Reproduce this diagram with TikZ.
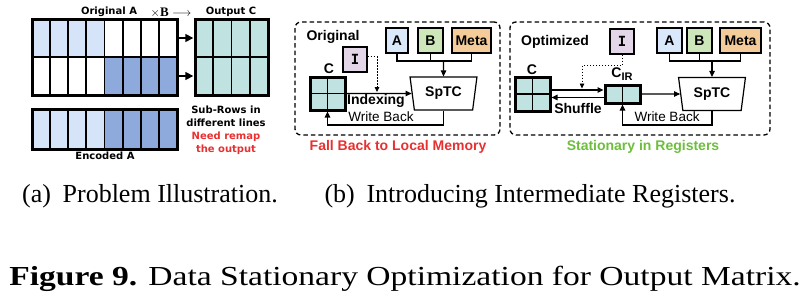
\documentclass[tikz,border=0pt]{standalone}
\usepackage{fontspec}
\setmainfont{Liberation Serif}
\newfontfamily\dvs{DejaVu Sans}
\newfontfamily\lsans{Liberation Sans}
\newfontfamily\dvmono{DejaVu Sans Mono}
\usetikzlibrary{shapes.geometric,arrows.meta,fit,calc}

\definecolor{cLight}{RGB}{214,228,250}
\definecolor{cMed}{RGB}{142,169,219}
\definecolor{cTeal}{RGB}{192,227,226}
\definecolor{cA}{RGB}{218,232,252}
\definecolor{cB}{RGB}{205,230,186}
\definecolor{cMeta}{RGB}{244,204,153}
\definecolor{cI}{RGB}{226,214,232}
\definecolor{cRed}{RGB}{232,48,48}
\definecolor{cGreen}{RGB}{108,190,60}

\begin{document}
\begin{tikzpicture}[x=1pt,y=-1pt,
  cell/.style={draw, line width=1.8pt, inner sep=0pt, outer sep=0pt, anchor=north west},
  frame/.style={draw, line width=3pt, inner sep=0pt, fit=#1},
  rowfit/.style={inner sep=0pt, fit=#1},
  fa/.style={font=\dvs\bfseries\fontsize{10}{12}\selectfont, inner sep=0pt},
  fb/.style={font=\lsans\bfseries\fontsize{14}{16}\selectfont, inner sep=0pt},
  fbr/.style={font=\lsans\fontsize{13.5}{16}\selectfont, inner sep=0pt},
  inbox/.style={draw, line width=1.2pt, inner sep=0pt, minimum height=25pt, font=\lsans\bfseries\fontsize{14}{16}\selectfont},
  panel/.style={draw, line width=1.3pt, dash pattern=on 4.5pt off 3pt, rounded corners=6pt, inner sep=0pt},
  sptc/.style={draw, line width=1.2pt, trapezium, trapezium angle=78, shape border rotate=180,
    trapezium stretches=true, minimum width=67pt, minimum height=33pt, inner sep=0pt,
    font=\lsans\bfseries\fontsize{14}{16}\selectfont},
  bigarr/.style={line width=1.6pt, -{Triangle[length=8pt,width=8pt]}},
  ln/.style={line width=1.1pt},
  arr/.style={line width=1.1pt, -{Triangle[length=6pt,width=5.5pt]}},
  dotarr/.style={line width=0.8pt, dash pattern=on 1.5pt off 1.5pt, -{Triangle[length=5pt,width=4.5pt]}},
  capline/.style={font=\fontsize{26}{30}\selectfont, inner sep=0pt, anchor=base}]
\useasboundingbox (0,0) rectangle (810,300);

% ---------- (a) problem illustration ----------
\foreach \c in {1,...,8} {
  \pgfmathsetmacro\xx{32+(\c-1)*18.125}
  \ifnum\c<5 \def\fu{cLight}\def\fd{white}\else\def\fu{white}\def\fd{cMed}\fi
  \node[cell, fill=\fu, minimum width=18.125pt, minimum height=38pt] (oa1-\c) at (\xx,19) {};
  \node[cell, fill=\fd, minimum width=18.125pt, minimum height=38pt] (oa2-\c) at (\xx,57) {};
  \ifnum\c<5 \def\fe{cLight}\else\def\fe{cMed}\fi
  \node[cell, fill=\fe, minimum width=18.125pt, minimum height=40pt] (ea-\c) at (\xx,109) {};
}
\foreach \c in {1,...,4} {
  \pgfmathsetmacro\xx{195+(\c-1)*18.25}
  \node[cell, fill=cTeal, minimum width=18.25pt, minimum height=38pt] (oc1-\c) at (\xx,19) {};
  \node[cell, fill=cTeal, minimum width=18.25pt, minimum height=38pt] (oc2-\c) at (\xx,57) {};
}
\node[frame={(oa1-1)(oa2-8)}] (origA) {};
\node[frame={(oc1-1)(oc2-4)}] (outC) {};
\node[frame={(ea-1)(ea-8)}] (encA) {};
\node[rowfit={(oa1-1)(oa1-8)}] (oaR1) {};
\node[rowfit={(oa2-1)(oa2-8)}] (oaR2) {};
\node[rowfit={(oc1-1)(oc1-4)}] (ocR1) {};
\node[rowfit={(oc2-1)(oc2-4)}] (ocR2) {};
\draw[bigarr, shorten >=1.5pt] (oaR1.east) -- (ocR1.west);
\draw[bigarr, shorten >=1.5pt] (oaR2.east) -- (ocR2.west);

\node[fa] (tOrig) at (109,12) {Original A};
\node[inner sep=0pt, font=\fontsize{13}{15}\selectfont] (tTimes) at (171,12.5) {$\times\mathbf{B}\longrightarrow$};
\node[fa] (tOut) at (231,12) {Output C};
\node[fa] (tEnc) at (105,156) {Encoded A};
\node[fa] (tSub1) at (226,110) {Sub-Rows in};
\node[fa] (tSub2) at (226,123) {different lines};
\node[fa, text=cRed] (tNeed1) at (226,137) {Need remap};
\node[fa, text=cRed] (tNeed2) at (226,150) {the output};

% ---------- (b) left: original flow ----------
\node[panel, minimum width=205pt, minimum height=113pt] (panL) at (397.5,78.5) {};
\node[fb] (tOrg) at (333,37) {Original};
\node[inbox, fill=cA, minimum width=22pt] (AL) at (397,40.5) {A};
\node[inbox, fill=cB, minimum width=25pt] (BL) at (430.5,40.5) {B};
\node[inbox, fill=cMeta, minimum width=39pt] (ML) at (471.5,40.5) {Meta};
\node[inbox, fill=cI, minimum width=24pt, font=\dvmono\bfseries\fontsize{14}{16}\selectfont] (IL) at (355,59.5) {I};
\node[sptc] (SL) at (443.5,93.5) {SpTC};
\foreach \i/\j in {1/1,1/2,2/1,2/2} {
  \pgfmathsetmacro\xx{310+(\j-1)*17.5}
  \pgfmathsetmacro\yy{77+(\i-1)*16.5}
  \node[cell, fill=cTeal, minimum width=17.5pt, minimum height=16.5pt] (cl-\i-\j) at (\xx,\yy) {};
}
\node[frame={(cl-1-1)(cl-2-2)}] (CL) {};
\node[fb] (tCL) at (329,69) {C};

\coordinate (jL) at (443.5,61);
\draw[ln] (AL.south) -- (AL.south |- jL) -- (ML.south |- jL) -- (ML.south);
\draw[ln] (BL.south) -- (BL.south |- jL);
\draw[arr] (jL) -- (SL);
\draw[arr] (CL.east) -- (SL);
\coordinate (ixL) at (377,92);
\draw[dotarr] ([yshift=3pt]IL.east) -| (ixL);
\coordinate (wbL) at (0,125);
\draw[arr] (SL) |- (CL.south |- wbL) -- (CL.south);
\node[fb] (tIdx) at (376,101) {Indexing};
\node[fbr] (tWbL) at (381,117) {Write Back};
\node[fb, text=cRed] (tFall) at (398,147) {Fall Back to Local Memory};

% ---------- (b) right: optimized flow ----------
\node[panel, minimum width=260pt, minimum height=113pt] (panR) at (640,78.5) {};
\node[fb] (tOpt) at (555,42) {Optimized};
\node[inbox, fill=cI, minimum width=24pt, font=\dvmono\bfseries\fontsize{14}{16}\selectfont] (IR) at (622,41.5) {I};
\node[inbox, fill=cA, minimum width=25pt] (AR) at (669.5,40.5) {A};
\node[inbox, fill=cB, minimum width=25pt] (BR) at (699.5,40.5) {B};
\node[inbox, fill=cMeta, minimum width=41pt] (MR) at (740.5,40.5) {Meta};
\node[sptc] (SR) at (712,94) {SpTC};
\foreach \i/\j in {1/1,1/2,2/1,2/2} {
  \pgfmathsetmacro\xx{515+(\j-1)*17.5}
  \pgfmathsetmacro\yy{77+(\i-1)*17}
  \node[cell, fill=cTeal, minimum width=17.5pt, minimum height=17pt] (cr-\i-\j) at (\xx,\yy) {};
}
\node[frame={(cr-1-1)(cr-2-2)}] (CR) {};
\node[fb] (tCR) at (532,70) {C};
\foreach \j in {1,2} {
  \pgfmathsetmacro\xx{605+(\j-1)*17.5}
  \node[cell, fill=cTeal, minimum width=17.5pt, minimum height=18pt] (ci-\j) at (\xx,85) {};
}
\node[frame={(ci-1)(ci-2)}] (CIR) {};
\node[fb] (tCIR) at (622,74) {C\raisebox{-3.5pt}{\fontsize{11}{12}\selectfont IR}};

\coordinate (jR) at (712,61);
\draw[ln] (AR.south) -- (AR.south |- jR) -- (MR.south |- jR) -- (MR.south);
\draw[ln] (BR.south) -- (BR.south |- jR);
\draw[arr] (jR) -- (SR);
\draw[arr] (CIR.east) -- (SR);
\draw[arr] ([yshift=4pt]CR.east) -- ([yshift=4pt]CIR.west);
\draw[arr] ([yshift=-3.5pt]CIR.west) -- ([yshift=-3.5pt]CR.east);
\coordinate (shR) at (582,88.5);
\draw[dotarr] (IR.south) -- ++(0,11) -| (shR);
\draw[arr] (SR) |- (CIR.south |- wbL) -- (CIR.south);
\node[fb] (tShuf) at (578,108) {Shuffle};
\node[fbr] (tWbR) at (667,117) {Write Back};
\node[fb, text=cGreen] (tStat) at (643,147) {Stationary in Registers};

% ---------- captions ----------
\node[capline] (capA) at (150,202) {(a)\hspace{0.45em}Problem Illustration.};
\node[capline] (capB) at (530,202) {(b)\hspace{0.45em}Introducing Intermediate Registers.};
\node[capline, font=\fontsize{27.5}{31}\selectfont] (capFig) at (405,285)
  {\scalebox{1.22}[1]{\textbf{Figure 9.} Data Stationary Optimization for Output Matrix.}};
\end{tikzpicture}
\end{document}
